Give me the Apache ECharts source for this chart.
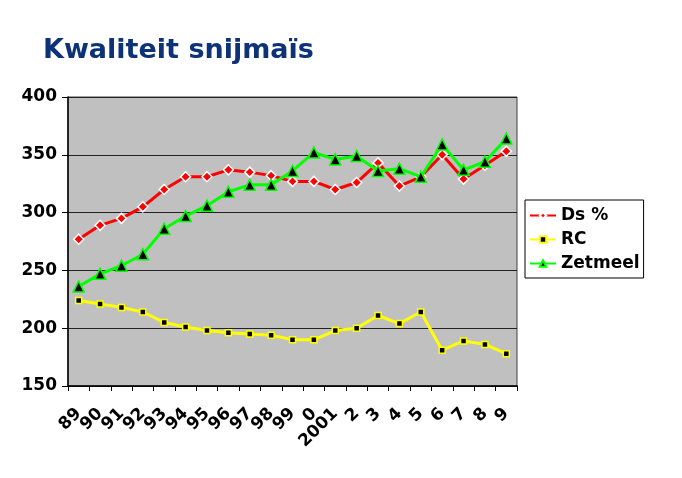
<!DOCTYPE html>
<html><head><meta charset="utf-8">
<script src="https://cdn.jsdelivr.net/npm/echarts@6/dist/echarts.min.js"></script>
<style>html,body{margin:0;padding:0;background:#fff}#c{width:682px;height:478px}</style>
</head><body><div id="c"></div>
<script>
const categories = ['89','90','91','92','93','94','95','96','97','98','99','0','2001','2','3','4','5','6','7','8','9'];
const dsPct =   [277, 289, 295, 305, 320, 331, 331, 337, 335, 332, 327, 327, 320, 326, 343, 323, 331, 350, 329, 341, 353];
const rc =      [224, 221, 218, 214, 205, 201, 198, 196, 195, 194, 190, 190, 198, 200, 211, 204, 214, 181, 189, 186, 178];
const zetmeel = [236, 247, 254, 264, 286, 297, 306, 318, 324, 324, 336, 352, 346, 349, 336, 338, 331, 359, 337, 344, 364];
const yTicks = [150, 200, 250, 300, 350, 400];

const chart = echarts.init(document.getElementById('c'));
const font = 'DejaVu Sans, Verdana, sans-serif';
chart.setOption({
  animation: false,
  backgroundColor: '#fff',
  title: {
    text: 'Kwaliteit snijmaïs', left: 38, top: 32,
    textStyle: {fontFamily: font, fontSize: 27, fontWeight: 'bold', color: '#0c3278'}
  },
  legend: {
    orient: 'vertical', left: 525, top: 200,
    backgroundColor: '#fff', borderColor: '#000', borderWidth: 1, borderRadius: 0,
    padding: [7, 4, 6, 4], itemGap: 7, itemWidth: 26, itemHeight: 8,
    textStyle: {fontFamily: font, fontSize: 17, fontWeight: 'bold', color: '#000'},
    data: ['Ds %', 'RC', 'Zetmeel']
  },
  grid: {left: 68, right: 165, top: 97, bottom: 92, show: true, backgroundColor: '#c0c0c0', borderColor: '#404040', borderWidth: 1},
  xAxis: {
    type: 'category', data: categories, boundaryGap: true,
    axisLine: {lineStyle: {color: '#000', width: 1.5}},
    axisTick: {show: true, inside: false, length: 5, lineStyle: {color: '#000'}},
    axisLabel: {rotate: 45, margin: 25, interval: 0, fontFamily: font, fontSize: 17, fontWeight: 'bold', color: '#000'}
  },
  yAxis: {
    type: 'value', min: yTicks[0], max: yTicks[yTicks.length-1], interval: 50,
    axisLine: {show: true, lineStyle: {color: '#000', width: 1.5}},
    axisTick: {show: true, length: 6, lineStyle: {color: '#000'}},
    splitLine: {lineStyle: {color: '#222', width: 1}},
    axisLabel: {margin: 11, fontFamily: font, fontSize: 17, fontWeight: 'bold', color: '#000'}
  },
  series: [
    {name: 'Ds %', type: 'line', data: dsPct, symbol: 'diamond', symbolSize: 10,
     lineStyle: {color: '#ff0000', width: 3}, itemStyle: {color: '#ff0000', borderColor: '#fff', borderWidth: 1.5}, z: 3},
    {name: 'RC', type: 'line', data: rc, symbol: 'rect', symbolSize: 6,
     lineStyle: {color: '#ffff00', width: 3}, itemStyle: {color: '#000', borderColor: '#ffff00', borderWidth: 1.5}, z: 2},
    {name: 'Zetmeel', type: 'line', data: zetmeel, symbol: 'triangle', symbolSize: 11,
     lineStyle: {color: '#00ff00', width: 3}, itemStyle: {color: '#000', borderColor: '#00ff00', borderWidth: 1.5}, z: 4}
  ]
});
</script></body></html>
